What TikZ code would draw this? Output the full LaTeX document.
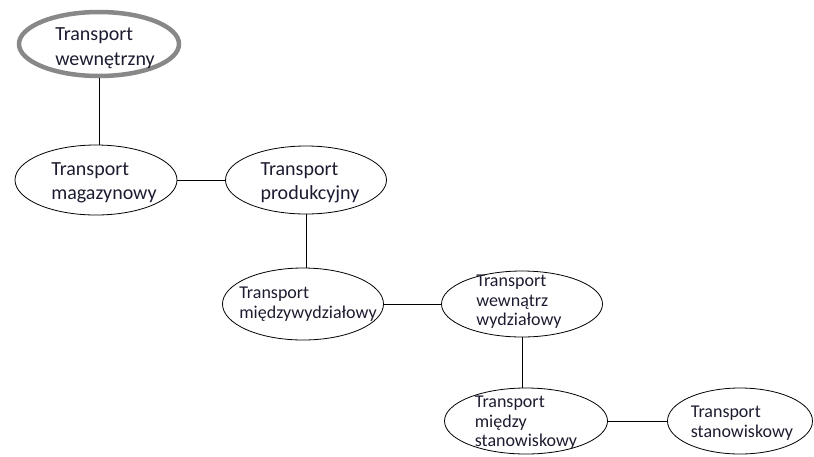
\documentclass[tikz,border=0pt]{standalone}
\usepackage{fontspec}
\setmainfont{Carlito}
\usepackage{tikz}
\usetikzlibrary{shapes.geometric,positioning}

\definecolor{txtcol}{RGB}{28,28,48}
\definecolor{rimgray}{RGB}{136,136,136}

\begin{document}
\begin{tikzpicture}[x=1pt,y=-1pt]
\tikzstyle{oval}=[ellipse,draw,line width=0.8pt,inner sep=0pt]
\tikzstyle{big}=[text=txtcol,align=left,font=\fontsize{20}{24.5}\selectfont]
\tikzstyle{small}=[text=txtcol,align=left,font=\fontsize{18}{19.5}\selectfont]
\tikzstyle{every label}=[inner sep=0pt]

\useasboundingbox (0,0) rectangle (814,456);

\node[oval,draw=rimgray,line width=4.5pt,minimum width=160pt,minimum height=64pt,
  label={[big,xshift=6pt,yshift=-4pt]center:Transport\\wewnętrzny}] (wewn) at (99,44) {};
\node[oval,minimum width=162pt,minimum height=70pt,
  label={[big,xshift=8pt,yshift=-3pt]center:Transport\\magazynowy}] (mag) at (96,180) {};
\node[oval,minimum width=161pt,minimum height=68pt,
  label={[big,xshift=4pt,yshift=-3pt]center:Transport\\produkcyjny}] (prod) at (306,180) {};
\node[oval,minimum width=161pt,minimum height=72pt,
  label={[small,xshift=5pt]center:Transport\\międzywydziałowy}] (miedzyw) at (303,304) {};
\node[oval,minimum width=161pt,minimum height=66pt,
  label={[small,xshift=-3pt,yshift=2pt]center:Transport\\wewnątrz\\wydziałowy}] (wewnw) at (522,304) {};
\node[oval,minimum width=163pt,minimum height=66pt,
  label={[small,yshift=-2pt]center:Transport\\między\\stanowiskowy}] (miedzys) at (526,421) {};
\node[oval,minimum width=145pt,minimum height=66pt,
  label={[small,xshift=2pt,yshift=-2pt]center:Transport\\stanowiskowy}] (stan) at (740,421) {};

% polaczenia
\draw[line width=0.8pt] (wewn.south) -- (wewn.south |- mag.north);
\draw[line width=0.8pt] (mag.east) -- (prod.west);
\draw[line width=0.8pt] (prod.south) -- (prod.south |- miedzyw.north);
\draw[line width=0.8pt] (miedzyw.east) -- (wewnw.west);
\draw[line width=0.8pt] (wewnw.south) -- (wewnw.south |- miedzys.north);
\draw[line width=0.8pt] (miedzys.east) -- (stan.west);
\end{tikzpicture}
\end{document}
